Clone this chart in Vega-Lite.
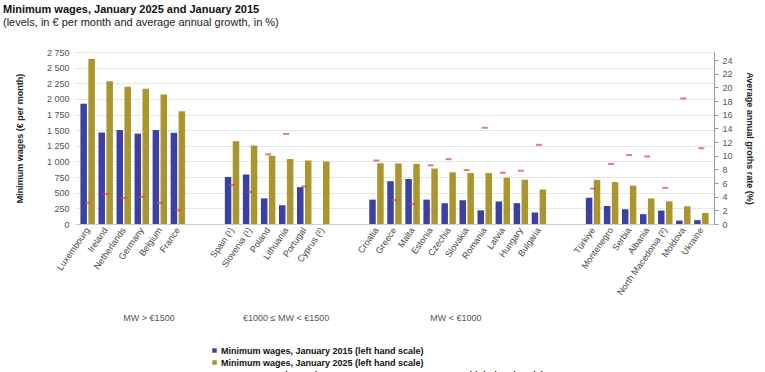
{
  "$schema": "https://vega.github.io/schema/vega-lite/v6.json",
  "width": 639,
  "height": 172,
  "autosize": "none",
  "padding": {"left": 75, "top": 52, "right": 51, "bottom": 148},
  "background": "white",
  "config": {
    "font": "Liberation Sans",
    "view": {"stroke": null},
    "axis": {"labelFont": "Liberation Sans", "titleFont": "Liberation Sans"}
  },
  "title": {
    "text": "Minimum wages, January 2025 and January 2015",
    "subtitle": "(levels, in € per month and average annual growth, in %)",
    "anchor": "start",
    "frame": "group",
    "dx": -72,
    "offset": 20,
    "fontSize": 11,
    "fontWeight": "bold",
    "color": "#111111",
    "subtitleFontSize": 11,
    "subtitleColor": "#222222",
    "subtitlePadding": 2
  },
  "datasets": {
    "wages": [
      {"country": "Luxembourg", "series": "Minimum wages, January 2015 (left hand scale)", "value": 1923},
      {"country": "Luxembourg", "series": "Minimum wages, January 2025 (left hand scale)", "value": 2638},
      {"country": "Ireland", "series": "Minimum wages, January 2015 (left hand scale)", "value": 1462},
      {"country": "Ireland", "series": "Minimum wages, January 2025 (left hand scale)", "value": 2282},
      {"country": "Netherlands", "series": "Minimum wages, January 2015 (left hand scale)", "value": 1502},
      {"country": "Netherlands", "series": "Minimum wages, January 2025 (left hand scale)", "value": 2194},
      {"country": "Germany", "series": "Minimum wages, January 2015 (left hand scale)", "value": 1445},
      {"country": "Germany", "series": "Minimum wages, January 2025 (left hand scale)", "value": 2161},
      {"country": "Belgium", "series": "Minimum wages, January 2015 (left hand scale)", "value": 1502},
      {"country": "Belgium", "series": "Minimum wages, January 2025 (left hand scale)", "value": 2070},
      {"country": "France", "series": "Minimum wages, January 2015 (left hand scale)", "value": 1458},
      {"country": "France", "series": "Minimum wages, January 2025 (left hand scale)", "value": 1802},
      {"country": "Spain (¹)", "series": "Minimum wages, January 2015 (left hand scale)", "value": 752},
      {"country": "Spain (¹)", "series": "Minimum wages, January 2025 (left hand scale)", "value": 1323},
      {"country": "Slovenia (¹)", "series": "Minimum wages, January 2015 (left hand scale)", "value": 791},
      {"country": "Slovenia (¹)", "series": "Minimum wages, January 2025 (left hand scale)", "value": 1254},
      {"country": "Poland", "series": "Minimum wages, January 2015 (left hand scale)", "value": 410},
      {"country": "Poland", "series": "Minimum wages, January 2025 (left hand scale)", "value": 1091},
      {"country": "Lithuania", "series": "Minimum wages, January 2015 (left hand scale)", "value": 300},
      {"country": "Lithuania", "series": "Minimum wages, January 2025 (left hand scale)", "value": 1038},
      {"country": "Portugal", "series": "Minimum wages, January 2015 (left hand scale)", "value": 589},
      {"country": "Portugal", "series": "Minimum wages, January 2025 (left hand scale)", "value": 1015},
      {"country": "Cyprus (²)", "series": "Minimum wages, January 2025 (left hand scale)", "value": 1000},
      {"country": "Croatia", "series": "Minimum wages, January 2015 (left hand scale)", "value": 390},
      {"country": "Croatia", "series": "Minimum wages, January 2025 (left hand scale)", "value": 970},
      {"country": "Greece", "series": "Minimum wages, January 2015 (left hand scale)", "value": 684},
      {"country": "Greece", "series": "Minimum wages, January 2025 (left hand scale)", "value": 968},
      {"country": "Malta", "series": "Minimum wages, January 2015 (left hand scale)", "value": 720},
      {"country": "Malta", "series": "Minimum wages, January 2025 (left hand scale)", "value": 961},
      {"country": "Estonia", "series": "Minimum wages, January 2015 (left hand scale)", "value": 390},
      {"country": "Estonia", "series": "Minimum wages, January 2025 (left hand scale)", "value": 886},
      {"country": "Czechia", "series": "Minimum wages, January 2015 (left hand scale)", "value": 332},
      {"country": "Czechia", "series": "Minimum wages, January 2025 (left hand scale)", "value": 826},
      {"country": "Slovakia", "series": "Minimum wages, January 2015 (left hand scale)", "value": 380},
      {"country": "Slovakia", "series": "Minimum wages, January 2025 (left hand scale)", "value": 816},
      {"country": "Romania", "series": "Minimum wages, January 2015 (left hand scale)", "value": 218},
      {"country": "Romania", "series": "Minimum wages, January 2025 (left hand scale)", "value": 815},
      {"country": "Latvia", "series": "Minimum wages, January 2015 (left hand scale)", "value": 360},
      {"country": "Latvia", "series": "Minimum wages, January 2025 (left hand scale)", "value": 740},
      {"country": "Hungary", "series": "Minimum wages, January 2015 (left hand scale)", "value": 333},
      {"country": "Hungary", "series": "Minimum wages, January 2025 (left hand scale)", "value": 707},
      {"country": "Bulgaria", "series": "Minimum wages, January 2015 (left hand scale)", "value": 184},
      {"country": "Bulgaria", "series": "Minimum wages, January 2025 (left hand scale)", "value": 551},
      {"country": "Türkiye", "series": "Minimum wages, January 2015 (left hand scale)", "value": 420},
      {"country": "Türkiye", "series": "Minimum wages, January 2025 (left hand scale)", "value": 705},
      {"country": "Montenegro", "series": "Minimum wages, January 2015 (left hand scale)", "value": 288},
      {"country": "Montenegro", "series": "Minimum wages, January 2025 (left hand scale)", "value": 670},
      {"country": "Serbia", "series": "Minimum wages, January 2015 (left hand scale)", "value": 235},
      {"country": "Serbia", "series": "Minimum wages, January 2025 (left hand scale)", "value": 613},
      {"country": "Albania", "series": "Minimum wages, January 2015 (left hand scale)", "value": 157},
      {"country": "Albania", "series": "Minimum wages, January 2025 (left hand scale)", "value": 408},
      {"country": "North Macedonia (²)", "series": "Minimum wages, January 2015 (left hand scale)", "value": 214},
      {"country": "North Macedonia (²)", "series": "Minimum wages, January 2025 (left hand scale)", "value": 363},
      {"country": "Moldova", "series": "Minimum wages, January 2015 (left hand scale)", "value": 55},
      {"country": "Moldova", "series": "Minimum wages, January 2025 (left hand scale)", "value": 284},
      {"country": "Ukraine", "series": "Minimum wages, January 2015 (left hand scale)", "value": 62},
      {"country": "Ukraine", "series": "Minimum wages, January 2025 (left hand scale)", "value": 176}
    ],
    "growth": [
      {"country": "Luxembourg", "growth": 3.1},
      {"country": "Ireland", "growth": 4.4},
      {"country": "Netherlands", "growth": 3.8},
      {"country": "Germany", "growth": 4.0},
      {"country": "Belgium", "growth": 3.1},
      {"country": "France", "growth": 2.0},
      {"country": "Spain (¹)", "growth": 5.7},
      {"country": "Slovenia (¹)", "growth": 4.7},
      {"country": "Poland", "growth": 10.2},
      {"country": "Lithuania", "growth": 13.2},
      {"country": "Portugal", "growth": 5.5},
      {"country": "Croatia", "growth": 9.3},
      {"country": "Greece", "growth": 3.5},
      {"country": "Malta", "growth": 2.9},
      {"country": "Estonia", "growth": 8.6},
      {"country": "Czechia", "growth": 9.5},
      {"country": "Slovakia", "growth": 7.9},
      {"country": "Romania", "growth": 14.1},
      {"country": "Latvia", "growth": 7.5},
      {"country": "Hungary", "growth": 7.8},
      {"country": "Bulgaria", "growth": 11.6},
      {"country": "Türkiye", "growth": 5.2},
      {"country": "Montenegro", "growth": 8.8},
      {"country": "Serbia", "growth": 10.1},
      {"country": "Albania", "growth": 9.9},
      {"country": "North Macedonia (²)", "growth": 5.3},
      {"country": "Moldova", "growth": 18.4},
      {"country": "Ukraine", "growth": 11.1}
    ],
    "groupsA": [
      {"anchor": "Germany", "label": "MW > €1500"},
      {"anchor": "Czechia", "label": "MW < €1000"}
    ],
    "groupsB": [
      {"anchor": "Lithuania", "label": "€1000 ≤ MW < €1500"}
    ]
  },
  "encoding": {
    "x": {
      "field": "country",
      "type": "nominal",
      "scale": {
        "domain": ["Luxembourg", "Ireland", "Netherlands", "Germany", "Belgium", "France", " ", "  ", "Spain (¹)", "Slovenia (¹)", "Poland", "Lithuania", "Portugal", "Cyprus (²)", "   ", "    ", "Croatia", "Greece", "Malta", "Estonia", "Czechia", "Slovakia", "Romania", "Latvia", "Hungary", "Bulgaria", "     ", "      ", "Türkiye", "Montenegro", "Serbia", "Albania", "North Macedonia (²)", "Moldova", "Ukraine"],
        "paddingInner": 0.2,
        "paddingOuter": 0.3
      },
      "axis": {
        "title": null,
        "labelAngle": -55,
        "labelFontSize": 9,
        "labelColor": "#444444",
        "labelLimit": 0,
        "ticks": false,
        "labelPadding": 4,
        "domain": true,
        "domainColor": "#cccccc",
        "grid": false
      }
    }
  },
  "layer": [
    {
      "data": {"name": "wages"},
      "mark": {"type": "bar"},
      "encoding": {
        "xOffset": {
          "field": "series",
          "type": "nominal",
          "scale": {
            "domain": ["Minimum wages, January 2015 (left hand scale)", "Minimum wages, January 2025 (left hand scale)"],
            "paddingInner": 0.18
          }
        },
        "y": {
          "field": "value",
          "type": "quantitative",
          "scale": {"domain": [0, 2750], "nice": false},
          "axis": {
            "title": "Minimum wages (€ per month)",
            "titleFontSize": 9,
            "titleFontWeight": "bold",
            "titleColor": "#222222",
            "titlePadding": 22,
            "values": [0, 250, 500, 750, 1000, 1250, 1500, 1750, 2000, 2250, 2500, 2750],
            "labelExpr": "replace(format(datum.value, ','), ',', ' ')",
            "labelFontSize": 9,
            "labelColor": "#555555",
            "ticks": false,
            "labelPadding": 6,
            "domain": false,
            "grid": true,
            "gridColor": "#e6e6e6"
          }
        },
        "color": {
          "field": "series",
          "type": "nominal",
          "scale": {
            "domain": ["Minimum wages, January 2015 (left hand scale)", "Minimum wages, January 2025 (left hand scale)", "Average annual growth rate, January 2015 - January 2025 (right hand scale)"],
            "range": ["#3c40a0", "#ab952f", "#d04848"]
          },
          "legend": {
            "title": null,
            "orient": "none",
            "legendX": 135,
            "legendY": 294,
            "direction": "vertical",
            "symbolType": "square",
            "symbolSize": 20,
            "symbolStrokeWidth": 0,
            "labelFontSize": 9,
            "labelFontWeight": "bold",
            "labelColor": "#111111",
            "labelLimit": 0,
            "rowPadding": 2,
            "labelOffset": 2
          }
        }
      }
    },
    {
      "data": {"name": "growth"},
      "mark": {"type": "tick", "color": "#d04848", "thickness": 2, "size": 6},
      "encoding": {
        "y": {
          "field": "growth",
          "type": "quantitative",
          "scale": {"domain": [0, 25.2], "nice": false},
          "axis": {
            "orient": "right",
            "title": "Average annual groths rate (%)",
            "titleFontSize": 9,
            "titleFontWeight": "bold",
            "titleColor": "#222222",
            "titlePadding": 12,
            "values": [0, 2, 4, 6, 8, 10, 12, 14, 16, 18, 20, 22, 24],
            "labelFontSize": 9,
            "labelColor": "#555555",
            "tickSize": 4,
            "tickColor": "#999999",
            "domainColor": "#999999",
            "labelPadding": 4,
            "grid": false
          }
        }
      }
    },
    {
      "data": {"name": "groupsA"},
      "mark": {"type": "text", "fontSize": 9, "color": "#555555", "dy": 94, "baseline": "middle"},
      "encoding": {
        "x": {"field": "anchor", "type": "nominal", "bandPosition": 1},
        "y": {"datum": 0, "type": "quantitative", "scale": {"domain": [0, 2750], "nice": false}, "axis": null},
        "text": {"field": "label"}
      }
    },
    {
      "data": {"name": "groupsB"},
      "mark": {"type": "text", "fontSize": 9, "color": "#555555", "dy": 94, "baseline": "middle"},
      "encoding": {
        "x": {"field": "anchor", "type": "nominal", "bandPosition": 0.5},
        "y": {"datum": 0, "type": "quantitative", "scale": {"domain": [0, 2750], "nice": false}, "axis": null},
        "text": {"field": "label"}
      }
    }
  ],
  "resolve": {"scale": {"y": "independent"}}
}
